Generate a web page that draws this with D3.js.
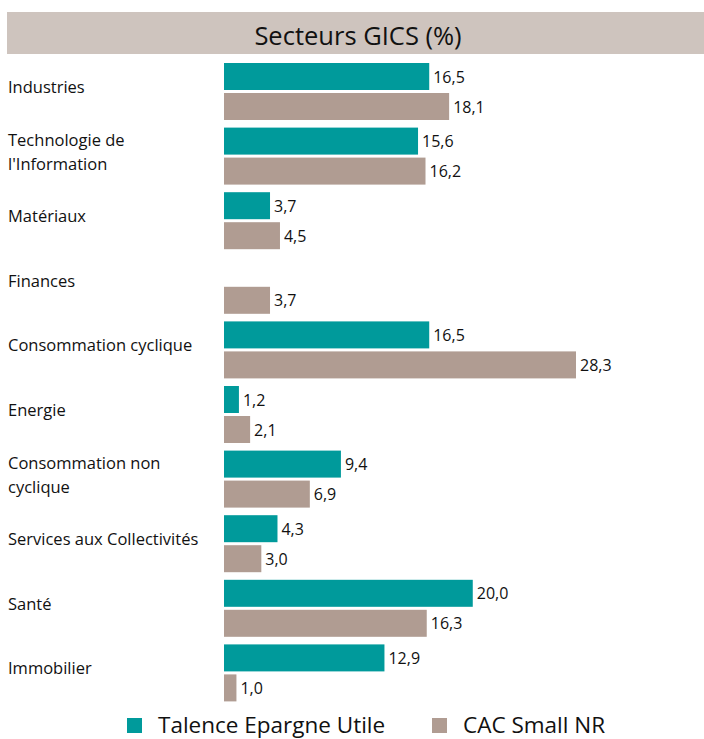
<!DOCTYPE html>
<html>
<head>
<meta charset="utf-8">
<script src="https://cdn.jsdelivr.net/npm/d3@7"></script>
<style>
  body { margin: 0; background: #fff; }
  text { font-family: "Open Sans", "Noto Sans", sans-serif; fill: #111; }
</style>
</head>
<body>
<div id="chart"></div>
<script>
// Data
const sectors = [
    ["Industries"],
    ["Technologie de", "l'Information"],
    ["Matériaux"],
    ["Finances"],
    ["Consommation cyclique"],
    ["Energie"],
    ["Consommation non", "cyclique"],
    ["Services aux Collectivités"],
    ["Santé"],
    ["Immobilier"]
];
const fundValues = [16.5, 15.6, 3.7, null, 16.5, 1.2, 9.4, 4.3, 20.0, 12.9];
const indexValues = [18.1, 16.2, 4.5, 3.7, 28.3, 2.1, 6.9, 3.0, 16.3, 1.0];
const seriesNames = ["Talence Epargne Utile", "CAC Small NR"];
const colors = ["#009a9b", "#b09c92"];

const width = 704, height = 739;
const formatVal = d => d.toFixed(1).replace(".", ",");

const svg = d3.select("#chart").append("svg")
    .attr("width", width)
    .attr("height", height);

// header band
svg.append("rect")
    .attr("x", 7).attr("y", 12)
    .attr("width", width - 7).attr("height", 42)
    .attr("fill", "#cec4be");
svg.append("text")
    .attr("x", 358).attr("y", 45)
    .attr("text-anchor", "middle")
    .style("font-size", "25.5px")
    .text("Secteurs GICS (%)");

const x = d3.scaleLinear().domain([0, 28.3]).range([224, 576]);
const y = d3.scaleBand()
    .domain(d3.range(sectors.length))
    .range([61, 61 + 64.6 * sectors.length])
    .paddingInner(0).paddingOuter(0);

const barH = 27;
const groups = svg.selectAll(".grp")
    .data(sectors)
    .enter().append("g")
    .attr("class", "grp")
    .attr("transform", (d, i) => `translate(0,${y(i) + 2})`);

// category labels
groups.append("text")
    .attr("x", 8)
    .style("font-size", "16.5px")
    .each(function(d) {
        const t = d3.select(this);
        const off = 30 - (d.length - 1) * 12;
        d.forEach((line, j) => {
            t.append("tspan").attr("x", 8).attr("y", off + j * 24).text(line);
        });
    });

// bars
const drawBars = (values, idx) => {
    groups.each(function(d, i) {
        const v = values[i];
        if (v == null) return;
        const g = d3.select(this);
        const yy = idx * 30;
        g.append("rect")
            .attr("x", x(0))
            .attr("y", yy)
            .attr("width", x(v) - x(0))
            .attr("height", barH)
            .attr("fill", colors[idx]);
        g.append("text")
            .attr("x", x(v) + 4)
            .attr("y", yy + barH / 2 + 6)
            .style("font-size", "16px")
            .text(formatVal(v));
    });
};
drawBars(fundValues, 0);
drawBars(indexValues, 1);

// legend
const legendX = [127, 432];
const legend = svg.selectAll(".leg")
    .data(seriesNames)
    .enter().append("g")
    .attr("class", "leg")
    .attr("transform", (d, i) => `translate(${legendX[i]},718)`);
legend.append("rect")
    .attr("width", 15).attr("height", 15)
    .attr("fill", (d, i) => colors[i]);
legend.append("text")
    .attr("x", 31).attr("y", 15)
    .style("font-size", "22.5px")
    .text(d => d);
</script>
</body>
</html>
